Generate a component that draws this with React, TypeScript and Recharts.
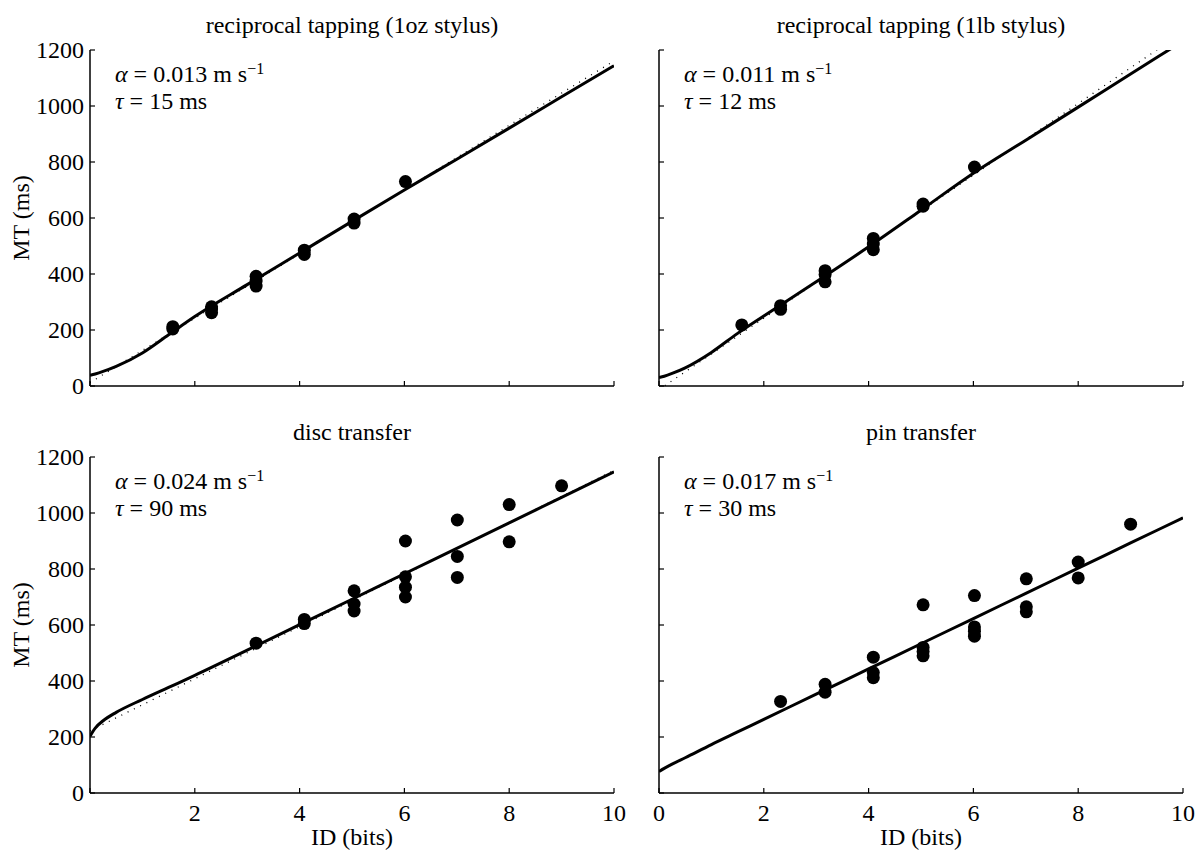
import React from "react";
import { ComposedChart, Scatter, Line, XAxis, YAxis } from "recharts";

const FONT = '"Liberation Serif", "Times New Roman", Times, serif';
const FS = 24;

const xTicks = [0, 2, 4, 6, 8, 10];
const yTicks = [0, 200, 400, 600, 800, 1000, 1200];

const curveX = [0, 0.1, 0.25, 0.5, 1, 1.5, 2, 3, 4, 5, 6, 7, 8, 9, 10];
// x positions for the straight (dotted) guide lines
const guideX = [0, 2, 4, 6, 8, 10];

// reciprocal tapping (1oz stylus)
const tapOzX = [1.58, 1.58, 2.32, 2.32, 2.32, 3.17, 3.17, 3.17, 4.09, 4.09, 5.04, 5.04, 6.02];
const tapOzMT = [212, 204, 283, 275, 262, 392, 375, 357, 485, 470, 596, 582, 730];
const tapOzFit = [38, 43, 52, 70, 118, 183, 248, 362, 475, 588, 700, 810, 921, 1033, 1144];
const tapOzGuide = [12, 242, 472, 701, 931, 1161];

// reciprocal tapping (1lb stylus)
const tapLbX = [1.58, 2.32, 2.32, 3.17, 3.17, 3.17, 4.09, 4.09, 4.09, 5.04, 5.04, 6.02];
const tapLbMT = [218, 287, 274, 412, 398, 372, 527, 507, 487, 650, 642, 782];
const tapLbFit = [30, 35, 45, 65, 120, 188, 250, 372, 497, 628, 760, 878, 996, 1114, 1232];
const tapLbGuide = [-13, 242, 498, 753, 1009, 1264];

// disc transfer
const discX = [3.17, 4.09, 4.09, 5.04, 5.04, 5.04, 6.02, 6.02, 6.02, 6.02, 7.01, 7.01, 7.01, 8.0, 8.0, 9.0];
const discMT = [535, 620, 605, 722, 675, 650, 900, 772, 735, 700, 975, 845, 770, 1030, 897, 1097];
const discFit = [203, 232, 258, 288, 334, 377, 420, 510, 601, 692, 783, 874, 965, 1056, 1147];
const discGuide = [222, 408, 594, 780, 966, 1152];

// pin transfer
const pinX = [2.32, 3.17, 3.17, 4.09, 4.09, 4.09, 5.04, 5.04, 5.04, 5.04, 6.02, 6.02, 6.02, 6.02, 7.01, 7.01, 7.01, 8.0, 8.0, 9.0];
const pinMT = [327, 388, 360, 485, 430, 412, 672, 520, 505, 490, 705, 593, 578, 560, 765, 665, 647, 825, 768, 960];
const pinFit = [77, 88, 103, 126, 173, 218, 263, 353, 443, 533, 623, 713, 803, 893, 983];

const zip = (xs: number[], ys: number[]) => xs.map((x, i) => ({ x, y: ys[i] }));

const PLOT_W = 524;
const PLOT_H = 336;
const Y_W = 88;
const M_TOP = 20;
const M_RIGHT = 30;
const X_H = 44;
const TICK = 5;
const axisLine = { stroke: "#000", strokeWidth: 1.5 };

type PanelProps = {
  title: string;
  alpha: string;
  tau: string;
  left: number;
  top: number;
  points: { x: number; y: number }[];
  fit: { x: number; y: number }[];
  guide?: { x: number; y: number }[];
  xLabels: boolean;
  hideZeroX?: boolean;
  yLabels: boolean;
};

function Panel(p: PanelProps) {
  const bottomTick = (t: any) => {
    const v = t.payload.value;
    const show = p.xLabels && !(p.hideZeroX && v === 0);
    return (
      <g>
        <line x1={t.x} x2={t.x} y1={t.y} y2={t.y - TICK} stroke="#000" strokeWidth={1.2} />
        {show && (
          <text x={t.x} y={t.y + 28} textAnchor="middle" fontFamily={FONT} fontSize={FS} fill="#000">
            {v}
          </text>
        )}
      </g>
    );
  };
  const topTick = (t: any) => (
    <line x1={t.x} x2={t.x} y1={t.y} y2={t.y + TICK} stroke="#000" strokeWidth={1.2} />
  );
  const leftTick = (t: any) => (
    <g>
      <line x1={t.x} x2={t.x + TICK} y1={t.y} y2={t.y} stroke="#000" strokeWidth={1.2} />
      {p.yLabels && (
        <text x={t.x - 6} y={t.y + 8} textAnchor="end" fontFamily={FONT} fontSize={FS} fill="#000">
          {t.payload.value}
        </text>
      )}
    </g>
  );
  const rightTick = (t: any) => (
    <line x1={t.x} x2={t.x - TICK} y1={t.y} y2={t.y} stroke="#000" strokeWidth={1.2} />
  );

  return (
    <>
      <div style={{ position: "absolute", left: p.left - Y_W, top: p.top - M_TOP }}>
        <ComposedChart
          width={PLOT_W + Y_W + M_RIGHT}
          height={PLOT_H + M_TOP + X_H}
          margin={{ top: M_TOP, right: M_RIGHT, bottom: 0, left: 0 }}
        >
          <XAxis
            type="number"
            dataKey="x"
            domain={[0, 10]}
            ticks={xTicks}
            interval={0}
            allowDataOverflow
            height={X_H}
            tickSize={0}
            tickMargin={0}
            tickLine={false}
            axisLine={axisLine}
            tick={bottomTick}
          />
          <XAxis
            xAxisId="top"
            orientation="top"
            type="number"
            dataKey="x"
            domain={[0, 10]}
            ticks={xTicks}
            interval={0}
            height={0}
            tickSize={0}
            tickMargin={0}
            tickLine={false}
            axisLine={axisLine}
            tick={topTick}
          />
          <YAxis
            type="number"
            dataKey="y"
            domain={[0, 1200]}
            ticks={yTicks}
            interval={0}
            allowDataOverflow
            width={Y_W}
            tickSize={0}
            tickMargin={0}
            tickLine={false}
            axisLine={axisLine}
            tick={leftTick}
          />
          <YAxis
            yAxisId="right"
            orientation="right"
            type="number"
            dataKey="y"
            domain={[0, 1200]}
            ticks={yTicks}
            interval={0}
            width={0}
            tickSize={0}
            tickMargin={0}
            tickLine={false}
            axisLine={axisLine}
            tick={rightTick}
          />
          {p.guide && (
            <Line
              data={p.guide}
              dataKey="y"
              type="linear"
              stroke="#000"
              strokeWidth={1.3}
              strokeDasharray="1 6"
              dot={false}
              isAnimationActive={false}
            />
          )}
          <Line
            data={p.fit}
            dataKey="y"
            type="monotone"
            stroke="#000"
            strokeWidth={3}
            dot={false}
            isAnimationActive={false}
          />
          <Scatter
            data={p.points}
            dataKey="y"
            fill="#000"
            isAnimationActive={false}
            shape={(s: any) => <circle cx={s.cx} cy={s.cy} r={6.5} fill="#000" />}
          />
        </ComposedChart>
      </div>
      <div
        style={{
          position: "absolute",
          left: p.left,
          width: PLOT_W,
          top: p.top - 39,
          lineHeight: "28px",
          textAlign: "center",
          fontFamily: FONT,
          fontSize: FS,
          whiteSpace: "nowrap",
        }}
      >
        {p.title}
      </div>
      <div
        style={{
          position: "absolute",
          left: p.left + 25,
          top: p.top + 11,
          lineHeight: "27px",
          fontFamily: FONT,
          fontSize: FS,
          whiteSpace: "nowrap",
        }}
      >
        <i>α</i> = {p.alpha} m s<sup style={{ fontSize: 16, verticalAlign: "8px", lineHeight: 0 }}>−1</sup>
        <br />
        <i>τ</i> = {p.tau} ms
      </div>
    </>
  );
}

export default function App() {
  const xLabelStyle: React.CSSProperties = {
    position: "absolute",
    top: 823,
    width: PLOT_W,
    textAlign: "center",
    lineHeight: "28px",
    fontFamily: FONT,
    fontSize: FS,
  };
  const yLabelStyle = (cy: number): React.CSSProperties => ({
    position: "absolute",
    left: 21,
    top: cy,
    transform: "translate(-50%, -50%) rotate(-90deg)",
    lineHeight: "28px",
    fontFamily: FONT,
    fontSize: FS,
    whiteSpace: "nowrap",
  });

  return (
    <div style={{ position: "absolute", left: 0, top: 0, width: 1197, height: 859, background: "#fff", color: "#000" }}>
      <Panel
        title="reciprocal tapping (1oz stylus)"
        alpha="0.013"
        tau="15"
        left={90}
        top={50}
        points={zip(tapOzX, tapOzMT)}
        fit={zip(curveX, tapOzFit)}
        guide={zip(guideX, tapOzGuide)}
        xLabels={false}
        yLabels
      />
      <Panel
        title="reciprocal tapping (1lb stylus)"
        alpha="0.011"
        tau="12"
        left={659}
        top={50}
        points={zip(tapLbX, tapLbMT)}
        fit={zip(curveX, tapLbFit)}
        guide={zip(guideX, tapLbGuide)}
        xLabels={false}
        yLabels={false}
      />
      <Panel
        title="disc transfer"
        alpha="0.024"
        tau="90"
        left={90}
        top={457}
        points={zip(discX, discMT)}
        fit={zip(curveX, discFit)}
        guide={zip(guideX, discGuide)}
        xLabels
        hideZeroX
        yLabels
      />
      <Panel
        title="pin transfer"
        alpha="0.017"
        tau="30"
        left={659}
        top={457}
        points={zip(pinX, pinMT)}
        fit={zip(curveX, pinFit)}
        xLabels
        yLabels={false}
      />
      <div style={yLabelStyle(218)}>MT (ms)</div>
      <div style={yLabelStyle(625)}>MT (ms)</div>
      <div style={{ ...xLabelStyle, left: 90 }}>ID (bits)</div>
      <div style={{ ...xLabelStyle, left: 659 }}>ID (bits)</div>
    </div>
  );
}
